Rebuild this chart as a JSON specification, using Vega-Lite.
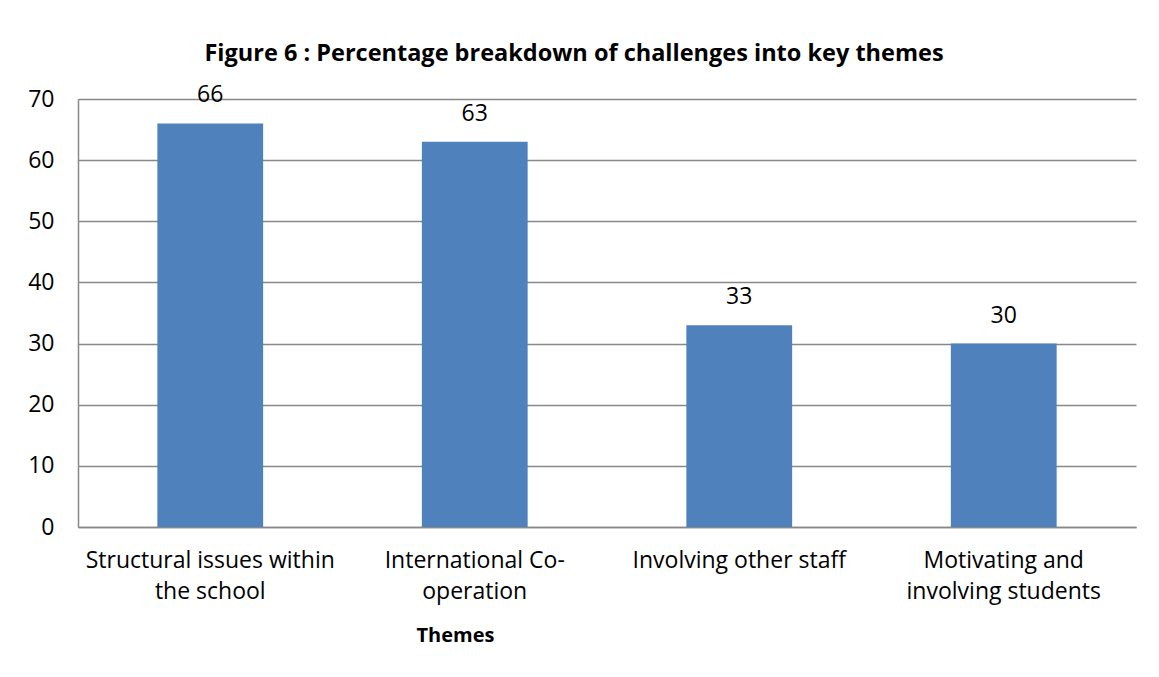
{
  "$schema": "https://vega.github.io/schema/vega-lite/v6.json",
  "width": 1058,
  "height": 428,
  "autosize": {"type": "none"},
  "padding": {"left": 78, "top": 99, "right": 23, "bottom": 150},
  "background": "white",
  "title": {
    "text": "Figure 6 : Percentage breakdown of challenges into key themes",
    "font": "Open Sans",
    "fontSize": 23.5,
    "fontWeight": "bold",
    "color": "black",
    "anchor": "middle",
    "dx": -33,
    "offset": 19
  },
  "data": {
    "values": [
      {"theme": "Structural issues within the school", "pct": 66},
      {"theme": "International Co-operation", "pct": 63},
      {"theme": "Involving other staff", "pct": 33},
      {"theme": "Motivating and involving students", "pct": 30}
    ]
  },
  "encoding": {
    "x": {
      "field": "theme",
      "type": "nominal",
      "sort": null,
      "scale": {"paddingInner": 0.6, "paddingOuter": 0.3},
      "axis": {
        "title": "Themes",
        "titleFont": "Open Sans",
        "titleFontSize": 20,
        "titleFontWeight": "bold",
        "titleColor": "black",
        "titleX": 377,
        "titleY": 98,
        "labelAngle": 0,
        "labelFont": "Open Sans",
        "labelFontSize": 23,
        "labelColor": "black",
        "labelLineHeight": 31,
        "labelPadding": 22,
        "labelLimit": 400,
        "ticks": false,
        "domainColor": "#888888",
        "domainWidth": 1.5,
        "labelExpr": "datum.value == 'Structural issues within the school' ? ['Structural issues within', 'the school'] : datum.value == 'International Co-operation' ? ['International Co-', 'operation'] : datum.value == 'Motivating and involving students' ? ['Motivating and', 'involving students'] : datum.value"
      }
    },
    "y": {
      "field": "pct",
      "type": "quantitative",
      "scale": {"domain": [0, 70]},
      "axis": {
        "title": null,
        "values": [0, 10, 20, 30, 40, 50, 60, 70],
        "labelFont": "Open Sans",
        "labelFontSize": 23,
        "labelColor": "black",
        "labelPadding": 24,
        "ticks": false,
        "grid": true,
        "gridColor": "#888888",
        "gridWidth": 1.5,
        "domainColor": "#888888",
        "domainWidth": 1.5
      }
    }
  },
  "layer": [
    {"mark": {"type": "bar", "color": "#4F81BD"}},
    {
      "mark": {"type": "text", "dy": -28, "font": "Open Sans", "fontSize": 23, "color": "black", "baseline": "middle"},
      "encoding": {"text": {"field": "pct", "type": "quantitative"}}
    }
  ],
  "config": {"view": {"stroke": null}}
}
